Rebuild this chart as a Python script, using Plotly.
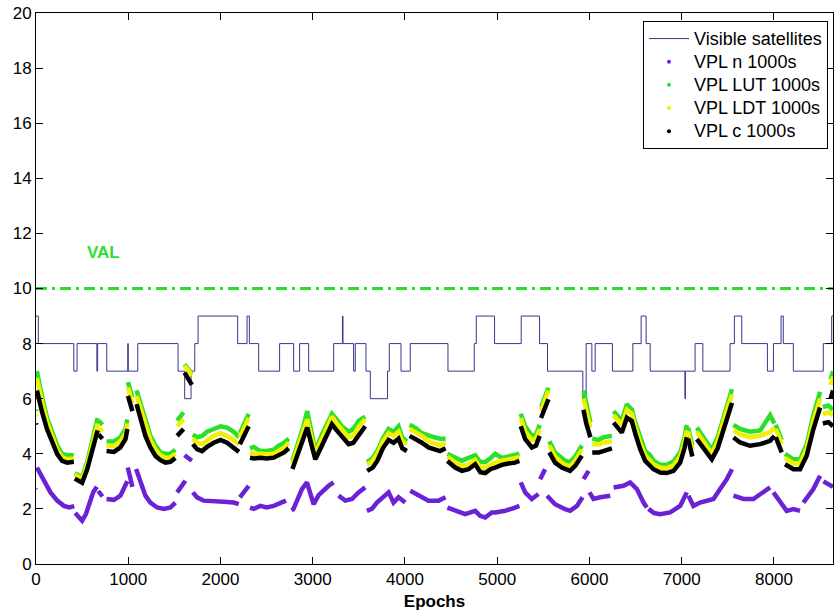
import plotly.graph_objects as go

# ---------------- data ----------------
epoch_max = 8640
val_level = 10

# Visible satellites: step changes (epoch, count)
sat_epochs = [0, 25, 410, 445, 660, 668, 767, 995, 1000, 1103, 1540, 1612, 1681, 1721, 1757,
              2186, 2288, 2313, 2414, 2641, 2793, 2858, 2956, 3227, 3322, 3328, 3443, 3461,
              3577, 3624, 3811, 3830, 3957, 4057, 4466, 4751, 4773, 4971, 5260, 5459, 5545,
              5928, 5964, 6026, 6062, 6249, 6470, 6560, 6614, 6658, 7035, 7040, 7145, 7229,
              7524, 7571, 7651, 7929, 7994, 8077, 8101, 8210, 8535, 8626, 8640]
sat_counts = [9, 8, 7, 8, 7, 8, 7, 8, 7, 8, 7, 6, 7, 8, 9,
              8, 9, 8, 7, 8, 7, 8, 7, 8, 9, 8, 7, 8,
              7, 6, 7, 8, 7, 8, 7, 8, 9, 8, 9, 8, 7,
              6, 8, 7, 8, 7, 8, 9, 8, 7, 6, 7, 8, 7,
              8, 9, 8, 7, 8, 9, 8, 7, 8, 9, 9]

# VPL LUT / LDT / c share the same segment epochs
vpl_epochs = [
    [0, 5],
    [10, 30, 67, 120, 175, 230, 283, 338, 410],
    [420, 500, 555, 608, 645, 668],
    [680, 720],
    [765, 845, 915, 970, 990],
    [997, 1045],
    [1090, 1150, 1186, 1240, 1295, 1349, 1403, 1457, 1510],
    [1530, 1600],
    [1610, 1690],
    [1700, 1746, 1800, 1854, 1927, 2000, 2071, 2144, 2200],
    [2210, 2255, 2306],
    [2320, 2360, 2432, 2500, 2577, 2631, 2690, 2740],
    [2780, 2848, 2900, 2940, 2985, 3028, 3100, 3172, 3208, 3260, 3316, 3389, 3440, 3500, 3569],
    [3590, 3650, 3700, 3760, 3822, 3876, 3930, 3970, 4020],
    [4050, 4110, 4183, 4255, 4320, 4380, 4440],
    [4460, 4544, 4617, 4689, 4761, 4816, 4870, 4930, 4978, 5050, 5120, 5194, 5240],
    [5255, 5303, 5375, 5420, 5460],
    [5475, 5515, 5555],
    [5565, 5627, 5700, 5736, 5790, 5845, 5918],
    [5935, 5965, 6010],
    [6030, 6100, 6150, 6243],
    [6261, 6351, 6405, 6459, 6500, 6550, 6604, 6658, 6694, 6766, 6838, 6911, 6983, 7030, 7055],
    [7070, 7115],
    [7164, 7236, 7326, 7390, 7452, 7500, 7545],
    [7561, 7633, 7741, 7850, 7958, 8005],
    [8020, 8084],
    [8120, 8211, 8283, 8355, 8427, 8500],
    [8530, 8590, 8640],
    [8615, 8640],
]
vpl_c = [
    [5.1, 5.05],
    [6.3, 5.98, 5.5, 4.89, 4.41, 3.99, 3.74, 3.68, 3.71],
    [3.1, 2.95, 3.44, 4.1, 4.53, 4.85],
    [4.7, 4.55],
    [4.1, 4.07, 4.23, 4.53, 4.9],
    [6.1, 5.55],
    [5.8, 5.13, 4.65, 4.23, 3.92, 3.77, 3.68, 3.71, 3.85],
    [4.65, 4.9],
    [6.95, 6.5],
    [4.35, 4.17, 4.1, 4.25, 4.4, 4.5, 4.4, 4.23, 4.07],
    [4.35, 4.65, 5.0],
    [3.86, 3.83, 3.86, 3.83, 3.86, 3.95, 4.05, 4.2],
    [3.45, 4.05, 4.5, 4.95, 4.35, 3.8, 4.3, 4.85, 5.07, 4.85, 4.65, 4.35, 4.4, 4.7, 5.0],
    [3.38, 3.5, 3.74, 4.2, 4.5, 4.4, 4.55, 4.2, 4.1],
    [4.65, 4.55, 4.4, 4.23, 4.15, 4.1, 4.2],
    [3.74, 3.5, 3.38, 3.44, 3.62, 3.33, 3.3, 3.45, 3.5, 3.6, 3.65, 3.68, 3.74],
    [5.0, 4.53, 4.23, 4.3, 4.65],
    [5.3, 5.6, 5.98],
    [4.05, 3.68, 3.5, 3.44, 3.38, 3.56, 3.93],
    [5.6, 5.1, 4.6],
    [4.05, 4.05, 4.1, 4.2],
    [5.13, 4.77, 5.31, 5.19, 4.7, 4.17, 3.74, 3.56, 3.44, 3.32, 3.3, 3.38, 3.68, 4.2, 4.6],
    [4.55, 3.9],
    [4.53, 4.2, 3.8, 4.2, 4.89, 5.35, 5.85],
    [4.59, 4.41, 4.29, 4.35, 4.47, 4.65],
    [4.6, 4.05],
    [3.62, 3.44, 3.44, 3.93, 4.89, 5.68],
    [5.1, 5.15, 5.0],
    [6.0, 6.3],
]
vpl_ldt = [
    [5.4, 5.35],
    [6.75, 6.4, 5.85, 5.15, 4.62, 4.15, 3.88, 3.8, 3.83],
    [3.25, 3.08, 3.6, 4.3, 4.8, 5.1],
    [4.95, 4.8],
    [4.3, 4.28, 4.45, 4.75, 5.1],
    [6.4, 5.85],
    [6.1, 5.45, 4.95, 4.5, 4.15, 3.95, 3.85, 3.88, 4.0],
    [5.0, 5.25],
    [7.2, 6.85],
    [4.55, 4.4, 4.35, 4.5, 4.65, 4.75, 4.65, 4.5, 4.35],
    [4.6, 4.95, 5.3],
    [4.05, 4.0, 4.0, 3.98, 4.0, 4.1, 4.22, 4.4],
    [3.65, 4.3, 4.8, 5.25, 4.6, 4.0, 4.55, 5.1, 5.35, 5.1, 4.9, 4.6, 4.65, 5.0, 5.25],
    [3.6, 3.75, 4.0, 4.45, 4.75, 4.65, 4.8, 4.45, 4.35],
    [4.9, 4.8, 4.65, 4.45, 4.35, 4.3, 4.4],
    [3.9, 3.68, 3.55, 3.6, 3.78, 3.5, 3.5, 3.62, 3.68, 3.75, 3.8, 3.83, 3.88],
    [5.3, 4.8, 4.5, 4.55, 4.9],
    [5.55, 5.95, 6.3],
    [4.3, 3.9, 3.68, 3.6, 3.55, 3.75, 4.15],
    [6.0, 5.55, 4.95],
    [4.35, 4.35, 4.4, 4.45],
    [5.4, 5.05, 5.6, 5.45, 4.95, 4.4, 3.95, 3.78, 3.62, 3.5, 3.48, 3.58, 3.9, 4.45, 4.85],
    [4.8, 4.15],
    [4.8, 4.45, 4.0, 4.45, 5.2, 5.7, 6.15],
    [4.85, 4.7, 4.6, 4.65, 4.8, 4.95],
    [4.9, 4.35],
    [3.85, 3.65, 3.65, 4.2, 5.2, 6.0],
    [5.45, 5.5, 5.4],
    [6.5, 6.8],
]
vpl_lut = [
    [5.6, 5.55],
    [7.0, 6.65, 6.05, 5.3, 4.75, 4.3, 4.0, 3.95, 3.95],
    [3.3, 3.15, 3.7, 4.45, 5.0, 5.3],
    [5.2, 5.05],
    [4.45, 4.45, 4.6, 4.9, 5.25],
    [6.6, 6.05],
    [6.3, 5.6, 5.15, 4.65, 4.3, 4.05, 4.0, 4.0, 4.15],
    [5.2, 5.5],
    [7.25, 6.9],
    [4.7, 4.6, 4.65, 4.8, 4.9, 5.0, 4.95, 4.8, 4.6],
    [4.75, 5.1, 5.45],
    [4.2, 4.25, 4.1, 4.1, 4.15, 4.3, 4.4, 4.55],
    [3.75, 4.45, 5.0, 5.55, 4.75, 4.1, 4.7, 5.25, 5.45, 5.25, 5.0, 4.8, 4.9, 5.2, 5.35],
    [3.7, 3.85, 4.1, 4.55, 4.9, 4.8, 5.0, 4.6, 4.45],
    [5.05, 4.95, 4.75, 4.65, 4.6, 4.55, 4.55],
    [4.0, 3.85, 3.75, 3.85, 3.95, 3.7, 3.7, 3.85, 4.0, 3.85, 3.9, 3.95, 4.0],
    [5.45, 5.0, 4.65, 4.7, 5.05],
    [5.7, 6.1, 6.4],
    [4.45, 4.05, 3.85, 3.75, 3.7, 3.9, 4.3],
    [6.3, 5.8, 5.15],
    [4.55, 4.5, 4.6, 4.65],
    [5.55, 5.2, 5.8, 5.6, 5.1, 4.6, 4.1, 3.95, 3.75, 3.6, 3.6, 3.72, 4.05, 4.6, 5.05],
    [4.95, 4.3],
    [4.95, 4.6, 4.15, 4.6, 5.35, 5.85, 6.35],
    [5.05, 4.9, 4.8, 4.85, 5.4, 5.1],
    [5.05, 4.5],
    [4.0, 3.8, 3.8, 4.35, 5.4, 6.25],
    [5.7, 5.75, 5.6],
    [6.7, 7.0],
]

# VPL n (its own segment epochs)
vpl_n_epochs = [
    [0, 5],
    [10, 85, 157, 230, 302, 360, 415],
    [425, 470, 500, 540, 580, 620, 660],
    [675, 720],
    [765, 845, 915, 970, 990],
    [995, 1045],
    [1085, 1150, 1186, 1240, 1313, 1385, 1457, 1511],
    [1530, 1620],
    [1610, 1690],
    [1700, 1746, 1818, 1927, 2035, 2144, 2198],
    [2210, 2306],
    [2320, 2360, 2432, 2500, 2577, 2650, 2710],
    [2770, 2790, 2830, 2883, 2937, 2974, 3010, 3064, 3120, 3172, 3226],
    [3280, 3353, 3425, 3497, 3569],
    [3587, 3641, 3696, 3786, 3822, 3876, 3930, 4003],
    [4057, 4147, 4255, 4364, 4440],
    [4460, 4544, 4653, 4761, 4815, 4869, 4941, 4978, 5086, 5194, 5240],
    [5255, 5303, 5375, 5447],
    [5465, 5519],
    [5540, 5627, 5736, 5791, 5864, 5925],
    [5936, 5990],
    [6000, 6044, 6116, 6225],
    [6261, 6369, 6441, 6514, 6586, 6622],
    [6640, 6700, 6766, 6875, 6983, 7055],
    [7073, 7127, 7200, 7272, 7344, 7416, 7489, 7545],
    [7561, 7669, 7777, 7886, 7958],
    [7994, 8066, 8138, 8211, 8283],
    [8319, 8427, 8500],
    [8536, 8608, 8640],
]
vpl_n = [
    [2.72, 2.7],
    [3.5, 3.02, 2.6, 2.3, 2.11, 2.05, 2.1],
    [1.85, 1.7, 1.57, 1.8, 2.2, 2.6, 2.8],
    [2.65, 2.45],
    [2.36, 2.33, 2.48, 2.84, 3.0],
    [3.5, 2.8],
    [3.45, 2.85, 2.48, 2.23, 2.05, 2.0, 2.05, 2.23],
    [2.6, 3.02],
    [3.95, 3.75],
    [2.6, 2.42, 2.3, 2.26, 2.26, 2.23, 2.17],
    [2.42, 2.84],
    [2.05, 2.0, 2.11, 2.05, 2.11, 2.23, 2.3],
    [1.95, 1.99, 2.3, 2.72, 2.96, 2.48, 2.17, 2.5, 2.7, 2.84, 2.96],
    [2.48, 2.3, 2.36, 2.6, 2.78],
    [1.93, 2.0, 2.23, 2.48, 2.6, 2.23, 2.42, 2.23],
    [2.66, 2.48, 2.3, 2.3, 2.42],
    [2.05, 1.93, 1.81, 1.93, 1.75, 1.69, 1.87, 1.87, 1.93, 2.05, 2.11],
    [2.96, 2.6, 2.36, 2.54],
    [3.08, 3.44],
    [2.48, 2.17, 1.99, 1.93, 2.11, 2.42],
    [3.08, 3.38],
    [2.6, 2.36, 2.42, 2.48],
    [2.78, 2.84, 2.96, 2.72, 2.23, 2.05],
    [2.0, 1.85, 1.81, 1.87, 2.11, 2.6],
    [2.48, 2.11, 2.23, 2.3, 2.36, 2.72, 3.08, 3.44],
    [2.48, 2.36, 2.36, 2.6, 2.78],
    [2.6, 2.23, 1.93, 1.99, 1.93],
    [2.23, 2.72, 3.2],
    [3.0, 2.84, 2.8],
]

series_names = ["Visible satellites", "VPL n 1000s", "VPL LUT 1000s", "VPL LDT 1000s", "VPL c 1000s"]
x_ticks = [0, 1000, 2000, 3000, 4000, 5000, 6000, 7000, 8000]
y_ticks = [0, 2, 4, 6, 8, 10, 12, 14, 16, 18, 20]

# ---------------- styling ----------------
C_SAT = "#36368f"
C_N = "#6b22d4"
C_LUT = "#2ae02a"
C_LDT = "#f0f000"
C_C = "#000000"
FONT = "Liberation Sans, Arial, sans-serif"


def flatten(seg_x, seg_y):
    xs, ys = [], []
    for sx, sy in zip(seg_x, seg_y):
        xs.extend(sx)
        ys.extend(sy)
        xs.append(None)
        ys.append(None)
    return xs, ys


def legend_label(text):
    # larger glyphs than the legend's row spacing font
    return '<span style="font-size:18px">' + text + '</span>'


fig = go.Figure()

# Visible satellites (step line)
fig.add_trace(go.Scatter(x=sat_epochs, y=sat_counts, mode="lines", line_shape="hv",
                         line=dict(color=C_SAT, width=1), name=legend_label(series_names[0])))

# VAL line
fig.add_trace(go.Scatter(x=[0, epoch_max], y=[val_level, val_level], mode="lines",
                         line=dict(color=C_LUT, width=3, dash="11px,5px,3px,5px"),
                         showlegend=False, hoverinfo="skip"))

for seg_x, seg_y, col in [(vpl_n_epochs, vpl_n, C_N), (vpl_epochs, vpl_lut, C_LUT),
                          (vpl_epochs, vpl_ldt, C_LDT), (vpl_epochs, vpl_c, C_C)]:
    xs, ys = flatten(seg_x, seg_y)
    fig.add_trace(go.Scatter(x=xs, y=ys, mode="lines", line=dict(color=col, width=4.5),
                             showlegend=False))

# legend entries (dots, as in the original)
for name, col in zip(series_names[1:], [C_N, C_LUT, C_LDT, C_C]):
    fig.add_trace(go.Scatter(x=[None], y=[None], mode="markers", name=legend_label(name),
                             marker=dict(color=col, size=4)))

fig.add_annotation(x=731, y=11.3, text="<b>VAL</b>", showarrow=False,
                   font=dict(family=FONT, size=17, color=C_LUT))

axis_common = dict(showgrid=False, zeroline=False, ticks="inside", ticklen=7,
                   tickcolor="black", linecolor="black", linewidth=1, mirror="ticks",
                   ticklabeloverflow="allow",
                   tickfont=dict(family=FONT, size=17, color="black"))

fig.update_xaxes(range=[0, epoch_max], tickvals=x_ticks, ticktext=[str(v) for v in x_ticks],
                 title=dict(text="<b>Epochs</b>", font=dict(family=FONT, size=17, color="black"),
                            standoff=6),
                 **axis_common)
fig.update_yaxes(range=[0, 20], tickvals=y_ticks, ticktext=[str(v) for v in y_ticks],
                 **axis_common)

fig.update_layout(
    width=835, height=614,
    margin=dict(l=36, r=2, t=13, b=50, autoexpand=False),
    plot_bgcolor="white", paper_bgcolor="white",
    font=dict(family=FONT, size=17, color="black"),
    legend=dict(x=0.9937, y=0.9855, xanchor="right", yanchor="top",
                bgcolor="white", bordercolor="black", borderwidth=1,
                font=dict(family=FONT, size=15.5, color="black"),
                tracegroupgap=0, itemwidth=40),
    showlegend=True,
)

# remove the default page margin so the figure sits at the window's top-left corner
fig.write_html("out.html", config={"displayModeBar": False},
               post_script="document.body.style.margin='0';")
